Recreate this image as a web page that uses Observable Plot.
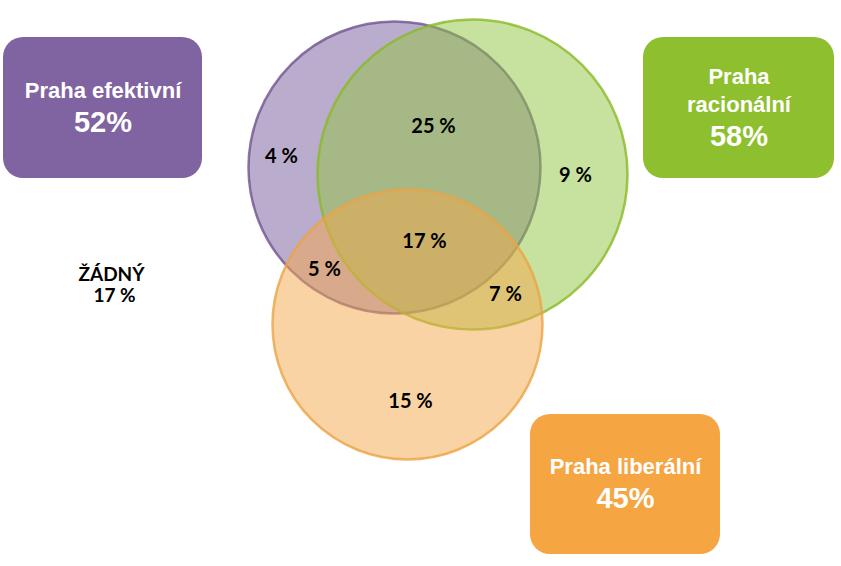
<!DOCTYPE html>
<html>
<head>
<meta charset="utf-8">
<script src="https://cdn.jsdelivr.net/npm/d3@7"></script>
<script src="https://cdn.jsdelivr.net/npm/@observablehq/plot@0.6"></script>
<style>
  html, body { margin: 0; padding: 0; background: #fff; }
  #chart svg { display: block; }
</style>
</head>
<body>
<div id="chart"></div>
<script>
// Sets (values)
const setNames = ["Praha efektivní", "Praha racionální", "Praha liberální"];
const setTitles = [["Praha efektivní"], ["Praha", "racionální"], ["Praha liberální"]];
const setTotals = [52, 58, 45];
const setColors = ["#8064A2", "#8DBF2E", "#F6A543"];
const circleFill = ["#765A9C", "#8FC33D", "#F5A749"];
const circleStroke = ["#6F548E", "#88BA26", "#EBA445"];

// Regions (values)
const regionNames = ["jen efektivní", "efektivní + racionální", "jen racionální", "všechny tři", "efektivní + liberální", "racionální + liberální", "jen liberální"];
const regionValues = [4, 25, 9, 17, 5, 7, 15];
const noneLabel = "ŽÁDNÝ";
const noneValue = 17;

// Layout (pixel positions of the diagram)
const circleCx = [394, 472, 407];
const circleCy = [167, 174, 324];
const circleR = [146, 155, 135];
const boxX1 = [3, 643, 530];
const boxX2 = [202, 834, 720];
const boxY1 = [37, 37, 414];
const boxY2 = [178, 178, 554];
const regionX = [281, 433, 575, 424, 324, 505, 410];
const regionY = [156, 126, 175, 241, 269, 294, 401];
const noneX = 111, noneY = 274;

const circles = setNames.map((n, i) => ({name: n, cx: circleCx[i], cy: circleCy[i], r: circleR[i], fill: circleFill[i], stroke: circleStroke[i]}));
const boxes = setNames.map((n, i) => ({name: n, x1: boxX1[i], x2: boxX2[i], y1: boxY1[i], y2: boxY2[i], fill: setColors[i]}));

const boxTitleLines = [];
const boxTotals = [];
setNames.forEach((n, i) => {
  const cx = (boxX1[i] + boxX2[i]) / 2;
  const cy = (boxY1[i] + boxY2[i]) / 2;
  const lines = setTitles[i];
  const first = cy - (lines.length - 1) * 14 - 17.5;
  lines.forEach((t, k) => boxTitleLines.push({x: cx, y: first + k * 28, text: t}));
  boxTotals.push({x: cx, y: first + (lines.length - 1) * 28 + 32, text: setTotals[i] + "%"});
});

const regions = regionNames.map((n, i) => ({name: n, x: regionX[i], y: regionY[i], text: regionValues[i] + " %"}));
const noneText = [{x: noneX, y: noneY, text: noneLabel}, {x: noneX + 3, y: noneY + 21, text: noneValue + " %"}];

const labelFont = "Lato, 'Open Sans', sans-serif";
const boxFont = "'Liberation Sans', Arial, sans-serif";

const chart = Plot.plot({
  width: 841,
  height: 566,
  margin: 0,
  x: {domain: [0, 841], range: [0, 841], axis: null},
  y: {domain: [0, 566], range: [0, 566], axis: null},
  r: {type: "identity"},
  style: {background: "#ffffff"},
  marks: [
    Plot.rect(boxes, {x1: "x1", x2: "x2", y1: "y1", y2: "y2", fill: d => d.fill, rx: 20}),
    Plot.dot(circles, {x: "cx", y: "cy", r: "r", sort: null, fill: d => d.fill, fillOpacity: 0.5, stroke: d => d.stroke, strokeWidth: 2.5, strokeOpacity: 0.8}),
    Plot.text(regions, {x: "x", y: "y", text: "text", fill: "#000", fontSize: 20, fontWeight: "bold", fontFamily: labelFont}),
    Plot.text(noneText, {x: "x", y: "y", text: "text", fill: "#000", fontSize: 19, fontWeight: "bold", fontFamily: labelFont}),
    Plot.text(boxTitleLines, {x: "x", y: "y", text: "text", fill: "#fff", fontSize: 22, fontWeight: "bold", fontFamily: boxFont}),
    Plot.text(boxTotals, {x: "x", y: "y", text: "text", fill: "#fff", fontSize: 29, fontWeight: "bold", fontFamily: boxFont})
  ]
});
document.getElementById("chart").appendChild(chart);
</script>
</body>
</html>
